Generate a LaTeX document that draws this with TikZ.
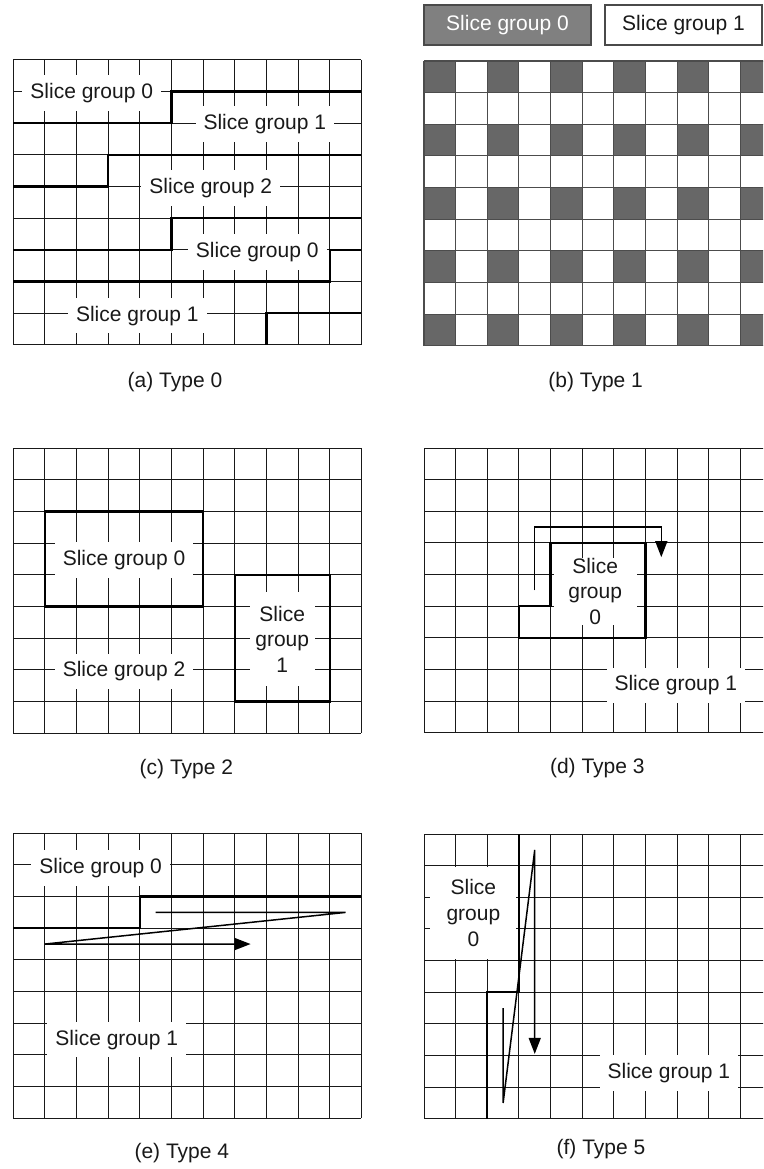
\documentclass[tikz,border=0pt]{standalone}
\usepackage{fontspec}
\setmainfont{Liberation Sans}
\usetikzlibrary{arrows.meta}
\newcommand{\sgf}{\fontsize{21}{25.7}\selectfont}
\definecolor{cellgray}{HTML}{676767}
\definecolor{leggray}{HTML}{808080}
\definecolor{legline}{HTML}{4A4A4A}
\begin{document}
\begin{tikzpicture}[x=1pt,y=-1pt,
  gridline/.style={line width=1pt, draw=black!90},
  bgridline/.style={line width=1.1pt, draw=black!70},
  thickline/.style={line width=2.3pt, draw=black},
  lbl/.style={fill=white, inner xsep=8pt, inner ysep=8pt, font=\sgf, text=black!90},
  mlbl/.style={fill=white, align=center, font=\sgf, text=black!90, inner sep=0pt},
  caption/.style={font=\sgf, inner sep=0pt, text=black!90},
  flow/.style={line width=1.5pt, draw=black, -{Triangle[length=16pt,width=12pt]}},
  legbox/.style={draw=legline, line width=1.2pt, minimum height=40pt, font=\sgf, inner sep=0pt},
]
\clip (0,0) rectangle (763,1169);
\fill[white] (0,0) rectangle (763,1169);

% ---------- (a) Type 0 ----------
\begin{scope}[shift={(13.3pt,-60pt)},x=31.64pt,y=-31.64pt]
  \foreach \i in {0,...,11} \draw[gridline] (\i,0) -- (\i,9);
  \foreach \j in {0,...,9} \draw[gridline] (0,\j) -- (11,\j);
  \node[lbl] (a0) at (2.48,1.05) {Slice group 0};
  \node[lbl] (a1) at (7.95,2.02) {Slice group 1};
  \node[lbl] (a2) at (6.24,4.05) {Slice group 2};
  \node[lbl] (a3) at (7.71,6.06) {Slice group 0};
  \node[lbl] (a4) at (3.92,8.08) {Slice group 1};
  \draw[thickline] (0,2) -- (5,2) -- (5,1) -- (11,1);
  \draw[thickline] (0,4) -- (3,4) -- (3,3) -- (11,3);
  \draw[thickline] (0,6) -- (5,6) -- (5,5) -- (11,5);
  \draw[thickline] (0,7) -- (10,7) -- (10,6) -- (11,6);
  \draw[thickline] (8,9) -- (8,8) -- (11,8);
\end{scope}
\node[caption] (capa) at (175,382) {(a) Type 0};

% ---------- (b) Type 1 ----------
\node[legbox, fill=leggray, text=white, minimum width=167pt] (lg0) at (507.5,25) {Slice group 0};
\node[legbox, fill=white, text=black!90, minimum width=157pt] (lg1) at (683.5,25) {Slice group 1};
\begin{scope}[shift={(424pt,-61pt)},x=31.64pt,y=-31.64pt]
  \foreach \i in {0,2,...,10} \foreach \j in {0,2,...,8} \fill[cellgray] (\i,\j) rectangle ++(1,1);
  \foreach \i in {0,...,11} \draw[bgridline] (\i,0) -- (\i,9);
  \foreach \j in {0,...,9} \draw[bgridline] (0,\j) -- (11,\j);
\end{scope}
\node[caption] (capb) at (595.6,382) {(b) Type 1};

% ---------- (c) Type 2 ----------
\begin{scope}[shift={(13.3pt,-448.3pt)},x=31.64pt,y=-31.64pt]
  \foreach \i in {0,...,11} \draw[gridline] (\i,0) -- (\i,9);
  \foreach \j in {0,...,9} \draw[gridline] (0,\j) -- (11,\j);
  \node[lbl] (c0) at (3.5,3.53) {Slice group 0};
  \node[mlbl, minimum width=65pt, minimum height=94pt] (c1) at (8.5,6.03) {Slice\\group\\1};
  \node[lbl] (c2) at (3.5,7.05) {Slice group 2};
  \draw[thickline] (1,2) rectangle (6,5);
  \draw[thickline] (7,4) rectangle (10,8);
\end{scope}
\node[caption] (capc) at (186.4,769) {(c) Type 2};

% ---------- (d) Type 3 ----------
\begin{scope}[shift={(424pt,-448pt)},x=31.64pt,y=-31.64pt]
  \foreach \i in {0,...,11} \draw[gridline] (\i,0) -- (\i,9);
  \foreach \j in {0,...,9} \draw[gridline] (0,\j) -- (11,\j);
  \node[mlbl, minimum width=83pt, minimum height=63pt] (d0) at (5.41,4.53) {Slice\\group\\0};
  \node[lbl] (d1) at (7.96,7.5) {Slice group 1};
  \draw[thickline] (3,6) -- (3,5) -- (4,5) -- (4,3) -- (7,3) -- (7,6) -- cycle;
  \coordinate (ds) at (3.5,4.5);
  \coordinate (d1c) at (3.5,2.5);
  \coordinate (d2c) at (7.5,2.5);
  \coordinate (de) at (7.5,3.45);
  \draw[flow] (ds) -- (d1c) -- (d2c) -- (de);
\end{scope}
\node[caption] (capd) at (597.3,768) {(d) Type 3};

% ---------- (e) Type 4 ----------
\begin{scope}[shift={(13.3pt,-833.3pt)},x=31.64pt,y=-31.64pt]
  \foreach \i in {0,...,11} \draw[gridline] (\i,0) -- (\i,9);
  \foreach \j in {0,...,9} \draw[gridline] (0,\j) -- (11,\j);
  \node[lbl] (e0) at (2.76,1.1) {Slice group 0};
  \node[lbl] (e1) at (3.27,6.52) {Slice group 1};
  \draw[thickline] (0,3) -- (4,3) -- (4,2) -- (11,2);
  \coordinate (es) at (4.5,2.5);
  \coordinate (e1c) at (10.5,2.5);
  \coordinate (e2c) at (1,3.5);
  \coordinate (ee) at (7.5,3.5);
  \draw[flow] (es) -- (e1c) -- (e2c) -- (ee);
\end{scope}
\node[caption] (cape) at (181.8,1153) {(e) Type 4};

% ---------- (f) Type 5 ----------
\begin{scope}[shift={(424pt,-834pt)},x=31.64pt,y=-31.64pt]
  \foreach \i in {0,...,11} \draw[gridline] (\i,0) -- (\i,9);
  \foreach \j in {0,...,9} \draw[gridline] (0,\j) -- (11,\j);
  \node[mlbl, minimum width=86pt, minimum height=92pt] (f0) at (1.56,2.5) {Slice\\group\\0};
  \node[lbl] (f1) at (7.74,7.55) {Slice group 1};
  \draw[thickline] (3,0) -- (3,5) -- (2,5) -- (2,9);
  \coordinate (fs) at (2.5,5.5);
  \coordinate (f1c) at (2.5,8.5);
  \coordinate (f2c) at (3.5,0.5);
  \coordinate (fe) at (3.5,6.95);
  \draw[flow] (fs) -- (f1c) -- (f2c) -- (fe);
\end{scope}
\node[caption] (capf) at (601,1149) {(f) Type 5};
\end{tikzpicture}
\end{document}
